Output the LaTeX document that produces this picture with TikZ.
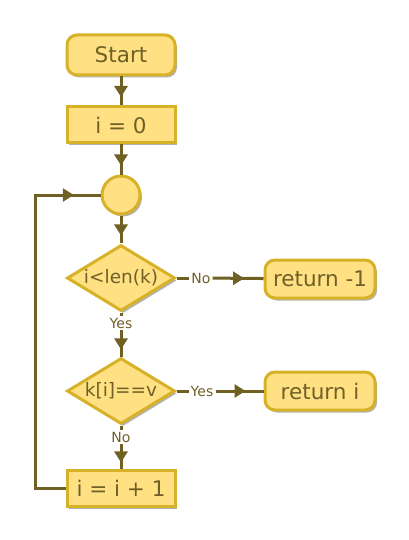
\documentclass[tikz,border=0pt]{standalone}
\usepackage{fontspec}
\setmainfont{DejaVu Sans}
\usetikzlibrary{shapes.geometric,arrows.meta,decorations.markings,shadows}
\definecolor{boxfill}{RGB}{255,224,130}
\definecolor{boxline}{RGB}{215,178,40}
\definecolor{flowline}{RGB}{112,96,36}
\definecolor{flowtext}{RGB}{112,96,40}
\begin{document}
\begin{tikzpicture}[x=1pt,y=-1pt,
  every node/.style={text=flowtext,font=\fontsize{21.5}{25}\selectfont},
  block/.style={draw=boxline,fill=boxfill,line width=3pt,inner sep=0pt,minimum width=108pt,
    drop shadow={shadow xshift=2pt,shadow yshift=-2.5pt,opacity=.3,fill=black}},
  term/.style={block,rounded corners=10pt,minimum height=40pt},
  proc/.style={block,minimum height=36pt},
  test/.style={block,diamond,aspect=1.64,minimum height=66pt,font=\fontsize{18.5}{22}\selectfont},
  joint/.style={block,circle,minimum width=38pt},
  tag/.style={fill=white,inner sep=2pt,font=\fontsize{14}{16}\selectfont},
  link/.style={draw=flowline,color=flowline,line width=3pt},
  flow/.style={link,postaction={decorate},decoration={markings,
    mark=at position .5 with {\pgftransformxshift{6pt}\arrow{Triangle[length=11pt,width=13pt]}}}}]
\useasboundingbox (0,0) rectangle (409,540);
% main column
\node[term] (start) at (121,55) {Start};
\node[proc] (init) at (121,125) {i = 0};
\node[joint] (join) at (121,195) {};
\node[test] (bound) at (121,278) {i<len(k)};
\node[tag] (yes1) at (121,323) {Yes};
\node[test] (match) at (121,391) {k[i]==v};
\node[tag] (no2) at (121,437) {No};
\node[proc] (incr) at (121,488) {i = i + 1};
% exits
\node[tag] (no1) at (201,278) {No};
\node[term,minimum width=110pt,minimum height=38pt] (fail) at (320,279) {return -1};
\node[tag] (yes2) at (202,391) {Yes};
\node[term,minimum width=110pt,minimum height=38pt] (found) at (320,391) {return i};
\coordinate (back) at (35,195);
\draw[flow] (start) -- (init);
\draw[flow] (init) -- (join);
\draw[flow] (join) -- (bound);
\draw[link] (bound) -- (yes1);\draw[flow] (yes1) -- (match);
\draw[link] (match) -- (no2);\draw[flow] (no2) -- (incr);
\draw[link] (bound) -- (no1);\draw[flow] (no1) -- (fail);
\draw[link] (match) -- (yes2);\draw[flow] (yes2) -- (found);
% loop back
\draw[link] (incr.west) -| (back) -- (join.west);
\path[flow,draw=none] (back) -- (join.west);
\end{tikzpicture}
\end{document}
